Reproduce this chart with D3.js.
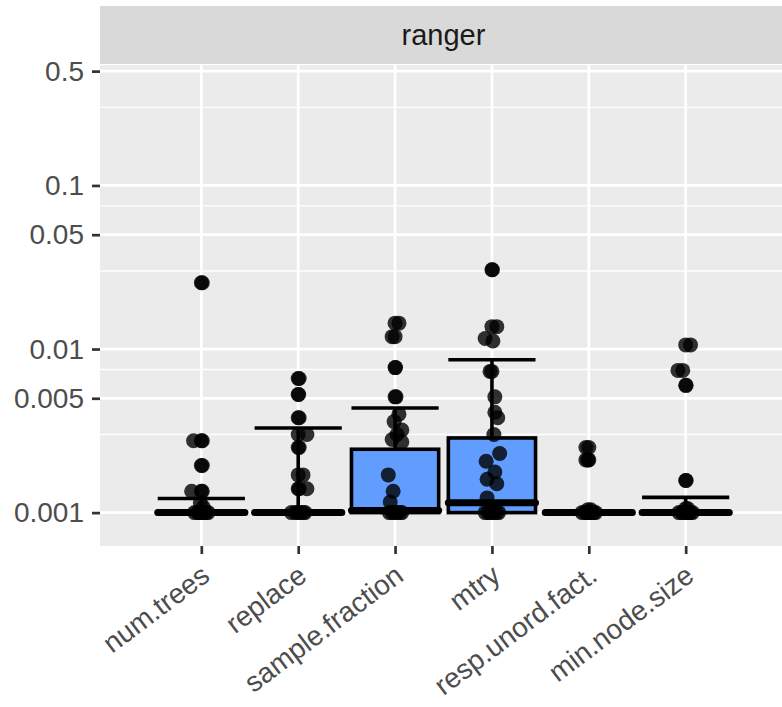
<!DOCTYPE html>
<html>
<head>
<meta charset="utf-8">
<script src="https://cdn.jsdelivr.net/npm/d3@7"></script>
<style>
  body { margin: 0; background: #ffffff; }
  text { font-family: "Liberation Sans", Arial, sans-serif; }
</style>
</head>
<body>
<div id="my_dataviz"></div>
<script>
// facet + categories
var facetLabel = "ranger";
var categories = ["num.trees", "replace", "sample.fraction", "mtry", "resp.unord.fact.", "min.node.size"];

// box stats per category
var boxLower  = [0.001, 0.001, 0.001,   0.001,   0.001, 0.001];
var boxMiddle = [0.001, 0.001, 0.00103, 0.00115, 0.001, 0.001];
var boxUpper  = [0.001, 0.001, 0.00244, 0.00286, 0.001, 0.001];
var whiskerHigh = [0.00122, 0.00329, 0.00436, 0.0086, 0.001, 0.00124];

// jittered points: [value, jitter as fraction of category step]
var ptsNumTrees = [[0.0254,0],[0.0254,0.01],[0.00275,0],[0.00275,0.01],[0.00275,-0.08],[0.00194,0],[0.00194,0.01],
  [0.00135,0],[0.00135,0.01],[0.00135,-0.1],[0.00115,-0.01],[0.00108,0.02],
  [0.001,-0.07],[0.001,-0.04],[0.001,-0.02],[0.001,0],[0.001,0.01],[0.001,0.03],[0.001,0.05],[0.001,0.07]];
var ptsReplace = [[0.0066,0],[0.0066,0.01],[0.00527,0],[0.00527,0.005],[0.0038,0],[0.0038,0.01],[0.0030,0],[0.0030,0.09],
  [0.0025,0],[0.0025,0.01],[0.0017,0],[0.0017,0.05],[0.0014,0],[0.0014,0.09],[0.0014,0.01],
  [0.001,-0.07],[0.001,-0.03],[0.001,0],[0.001,0.02],[0.001,0.05],[0.001,0.07]];
var ptsSampleFraction = [[0.0144,0],[0.0144,0.04],[0.0119,-0.03],[0.0119,0],[0.0077,0],[0.0077,0.005],[0.0051,0],[0.0051,0.01],
  [0.0040,0.04],[0.0036,-0.01],[0.0032,0.07],[0.0030,0.02],[0.0028,-0.03],[0.0027,0.07],[0.0017,-0.07],[0.00135,-0.02],[0.00116,-0.05],
  [0.001,-0.06],[0.001,-0.03],[0.001,0],[0.001,0.02],[0.001,0.05],[0.001,0.07]];
var ptsMtry = [[0.0305,0],[0.0305,0.005],[0.0137,0],[0.0137,0.05],[0.0116,-0.07],[0.0112,0.01],[0.0073,-0.02],[0.0073,0],
  [0.0051,0.03],[0.0041,0.03],[0.0038,0.06],[0.0030,0.02],[0.0023,0.08],[0.00206,-0.06],[0.00177,0.03],[0.0016,-0.05],[0.0015,0.05],[0.00123,-0.05],
  [0.001,-0.07],[0.001,-0.04],[0.001,-0.02],[0.001,0],[0.001,0.02],[0.001,0.05],[0.001,0.07]];
var ptsRespUnord = [[0.0025,-0.03],[0.0025,0],[0.0021,-0.03],[0.0021,0],[0.0021,-0.01],[0.00104,-0.01],[0.00104,0.02],
  [0.001,-0.07],[0.001,-0.04],[0.001,-0.02],[0.001,0],[0.001,0.01],[0.001,0.03],[0.001,0.05],[0.001,0.07]];
var ptsMinNode = [[0.0106,0],[0.0106,0.05],[0.0074,-0.03],[0.0074,-0.08],[0.0060,0],[0.0060,0.005],[0.00157,0],[0.00157,0.005],
  [0.00106,0],[0.00106,0.02],
  [0.001,-0.07],[0.001,-0.04],[0.001,-0.02],[0.001,0],[0.001,0.01],[0.001,0.03],[0.001,0.05],[0.001,0.07]];
var pointSets = [ptsNumTrees, ptsReplace, ptsSampleFraction, ptsMtry, ptsRespUnord, ptsMinNode];

// axis
var yBreaks = [0.001, 0.005, 0.01, 0.05, 0.1, 0.5];
var yLabels = ["0.001", "0.005", "0.01", "0.05", "0.1", "0.5"];
var yMinorBreaks = [0.003, 0.0075, 0.03, 0.075, 0.3];
var yLimits = [0.000625, 0.545];

var W = 782, H = 707;
var panel = {left: 100, right: 787, top: 65, bottom: 546};
var strip = {top: 6, bottom: 64};
var fontSize = 28;

var svg = d3.select("#my_dataviz")
  .append("svg")
    .attr("width", W)
    .attr("height", H);

var x = d3.scalePoint()
  .domain(categories)
  .range([panel.left, panel.right])
  .padding(1.046);
var step = x.step();

var y = d3.scaleLog()
  .domain(yLimits)
  .range([panel.bottom, panel.top]);

// strip
svg.append("rect")
  .attr("x", panel.left).attr("y", strip.top)
  .attr("width", panel.right - panel.left).attr("height", strip.bottom - strip.top)
  .attr("fill", "#D9D9D9");
svg.append("text")
  .attr("x", (panel.left + panel.right) / 2)
  .attr("y", (strip.top + strip.bottom) / 2)
  .attr("text-anchor", "middle")
  .attr("dominant-baseline", "central")
  .attr("font-size", fontSize + 1)
  .attr("fill", "#1A1A1A")
  .text(facetLabel);

// panel background + grid
svg.append("rect")
  .attr("x", panel.left).attr("y", panel.top)
  .attr("width", panel.right - panel.left).attr("height", panel.bottom - panel.top)
  .attr("fill", "#EBEBEB");

svg.selectAll("minorY")
  .data(yMinorBreaks)
  .enter().append("line")
  .attr("x1", panel.left).attr("x2", panel.right)
  .attr("y1", function(d) { return y(d); }).attr("y2", function(d) { return y(d); })
  .attr("stroke", "#fff").attr("stroke-width", 1.4);

svg.selectAll("majorY")
  .data(yBreaks)
  .enter().append("line")
  .attr("x1", panel.left).attr("x2", panel.right)
  .attr("y1", function(d) { return y(d); }).attr("y2", function(d) { return y(d); })
  .attr("stroke", "#fff").attr("stroke-width", 2.7);

svg.selectAll("majorX")
  .data(categories)
  .enter().append("line")
  .attr("x1", function(d) { return x(d); }).attr("x2", function(d) { return x(d); })
  .attr("y1", panel.top).attr("y2", panel.bottom)
  .attr("stroke", "#fff").attr("stroke-width", 2.7);

// y axis
var yAxis = svg.append("g")
  .attr("transform", "translate(" + panel.left + ",0)")
  .call(d3.axisLeft(y).tickValues(yBreaks).tickFormat(function(d, i) { return yLabels[i]; }).tickSize(8).tickPadding(8));
yAxis.select(".domain").remove();
yAxis.selectAll(".tick line").attr("stroke", "#333333").attr("stroke-width", 2.7);
yAxis.selectAll(".tick text").attr("font-size", fontSize).attr("fill", "#4D4D4D")
  .attr("font-family", "Liberation Sans, Arial, sans-serif");

// x axis
var xAxis = svg.append("g")
  .attr("transform", "translate(0," + panel.bottom + ")")
  .call(d3.axisBottom(x).tickSize(8).tickFormat(""));
xAxis.select(".domain").remove();
xAxis.selectAll(".tick line").attr("stroke", "#333333").attr("stroke-width", 2.7);

// labels turned, right end under the tick
svg.selectAll("xlab")
  .data(categories)
  .enter().append("text")
  .attr("transform", function(d) { return "translate(" + (x(d) - 2) + "," + (panel.bottom + 17) + ") rotate(-37)"; })
  .attr("text-anchor", "end")
  .attr("dy", "0.72em")
  .attr("font-size", fontSize)
  .attr("fill", "#4D4D4D")
  .text(function(d) { return d; });

// boxes
var bw = step * 0.9;
var boxes = svg.append("g");
categories.forEach(function(c, i) {
  var cx = x(c);
  // whisker
  boxes.append("line")
    .attr("x1", cx).attr("x2", cx)
    .attr("y1", y(boxUpper[i])).attr("y2", y(whiskerHigh[i]))
    .attr("stroke", "#000").attr("stroke-width", 3.6);
  // cap
  boxes.append("line")
    .attr("x1", cx - bw / 2).attr("x2", cx + bw / 2)
    .attr("y1", y(whiskerHigh[i])).attr("y2", y(whiskerHigh[i]))
    .attr("stroke", "#000").attr("stroke-width", 3.6);
  boxes.append("rect")
    .attr("x", cx - bw / 2).attr("width", bw)
    .attr("y", y(boxUpper[i])).attr("height", y(boxLower[i]) - y(boxUpper[i]))
    .attr("fill", "#619CFF").attr("stroke", "#000").attr("stroke-width", 3.6);
  boxes.append("line")
    .attr("x1", cx - bw / 2).attr("x2", cx + bw / 2)
    .attr("y1", y(boxMiddle[i])).attr("y2", y(boxMiddle[i]))
    .attr("stroke", "#000").attr("stroke-width", 7).attr("stroke-linecap", "round");
});

// points
var pts = svg.append("g");
categories.forEach(function(c, i) {
  pts.selectAll("pt" + i)
    .data(pointSets[i])
    .enter().append("circle")
    .attr("cx", function(d) { return x(c) + d[1] * step; })
    .attr("cy", function(d) { return y(d[0]); })
    .attr("r", 7.5)
    .attr("fill", "#000")
    .attr("fill-opacity", 0.8);
});
</script>
</body>
</html>
